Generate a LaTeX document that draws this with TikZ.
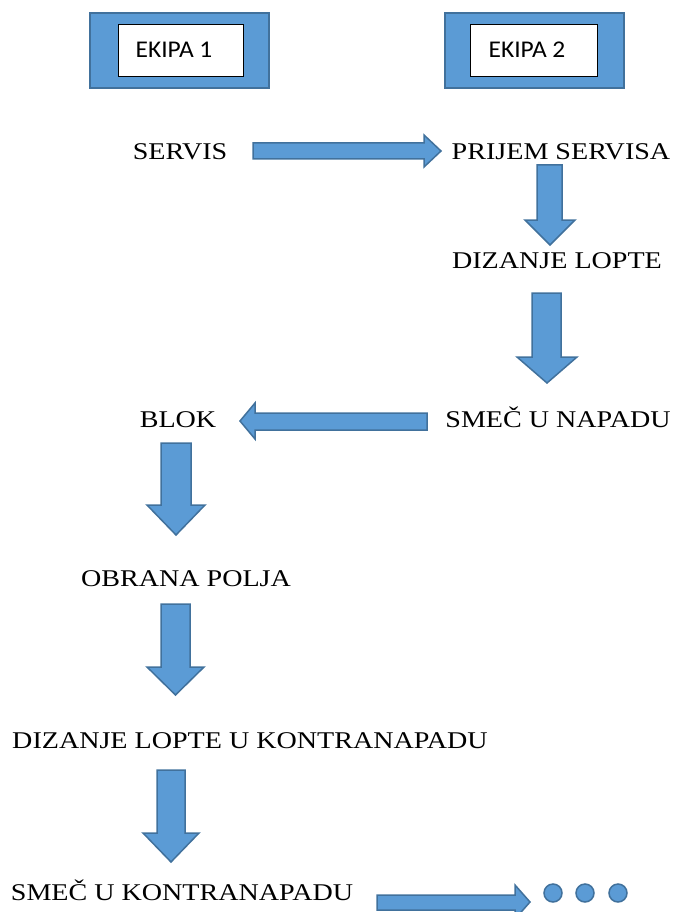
\documentclass[tikz,border=0pt]{standalone}
\usepackage{fontspec}
\setmainfont{Liberation Serif}
\newfontfamily\calfont{Carlito}
\definecolor{arrfill}{HTML}{5B9BD5}
\definecolor{arrline}{HTML}{41719C}
\newcommand{\lbl}[1]{\scalebox{1.17}[1]{\fontsize{24}{28}\selectfont #1}}
\newcommand{\hdr}[1]{\scalebox{1.06}[1]{\calfont\fontsize{24}{28}\selectfont #1}}
\begin{document}
\begin{tikzpicture}[x=1pt,y=-1pt,
  lab/.style={inner sep=0pt,anchor=base},
  blockarr/.style={fill=arrfill,draw=arrline,line width=1.5pt,line join=miter},
  outerbox/.style={fill=arrfill,draw=arrline,line width=2pt},
  innerbox/.style={fill=white,draw=black,line width=1pt},
  dot/.style={circle,fill=arrfill,draw=arrline,line width=1.5pt,minimum size=18pt,inner sep=0pt}]
\useasboundingbox (0,0) rectangle (676,912);
% team boxes
\draw[outerbox] (90,13) rectangle (269,88);
\draw[innerbox] (118,25) rectangle (243,77);
\node (e1) at (174,50) {\hdr{EKIPA 1}};
\draw[outerbox] (445,13) rectangle (624,88);
\draw[innerbox] (470,25) rectangle (597,77);
\node (e2) at (527,50) {\hdr{EKIPA 2}};
% labels
\node[lab] (servis) at (180,160) {\lbl{SERVIS}};
\node[lab] (prijem) at (561,160) {\lbl{PRIJEM SERVISA}};
\node[lab] (dizanje) at (557,268) {\lbl{DIZANJE LOPTE}};
\node[lab] (smec) at (558,427) {\lbl{SMEČ U NAPADU}};
\node[lab] (blok) at (178,427) {\lbl{BLOK}};
\node[lab] (obrana) at (186,586) {\lbl{OBRANA POLJA}};
\node[lab] (dizk) at (250,748) {\lbl{DIZANJE LOPTE U KONTRANAPADU}};
\node[lab] (smeck) at (182,900) {\lbl{SMEČ U KONTRANAPADU}};
% block arrows
\draw[blockarr] (253,143) -- (424,143) -- (424,135) -- (441,151) -- (424,167) -- (424,159) -- (253,159) -- cycle;
\draw[blockarr] (537,165) -- (562,165) -- (562,220) -- (575,220) -- (550,245) -- (525,220) -- (537,220) -- cycle;
\draw[blockarr] (532,293) -- (561,293) -- (561,357) -- (577,357) -- (547,383) -- (517,357) -- (532,357) -- cycle;
\draw[blockarr] (427,413) -- (255,413) -- (255,403) -- (240,421) -- (255,439) -- (255,430) -- (427,430) -- cycle;
\draw[blockarr] (161,443) -- (191,443) -- (191,505) -- (205,505) -- (176,535) -- (147,505) -- (161,505) -- cycle;
\draw[blockarr] (161,604) -- (190,604) -- (190,667) -- (204,667) -- (175.5,695) -- (147,667) -- (161,667) -- cycle;
\draw[blockarr] (157,770) -- (185,770) -- (185,833) -- (199,833) -- (171,862) -- (143,833) -- (157,833) -- cycle;
\draw[blockarr] (377,895) -- (515,895) -- (515,885) -- (530,902) -- (515,919) -- (515,910) -- (377,910) -- cycle;
% dots
\node[dot] (d1) at (553,893) {};
\node[dot] (d2) at (585,893) {};
\node[dot] (d3) at (618,893) {};
\end{tikzpicture}
\end{document}
